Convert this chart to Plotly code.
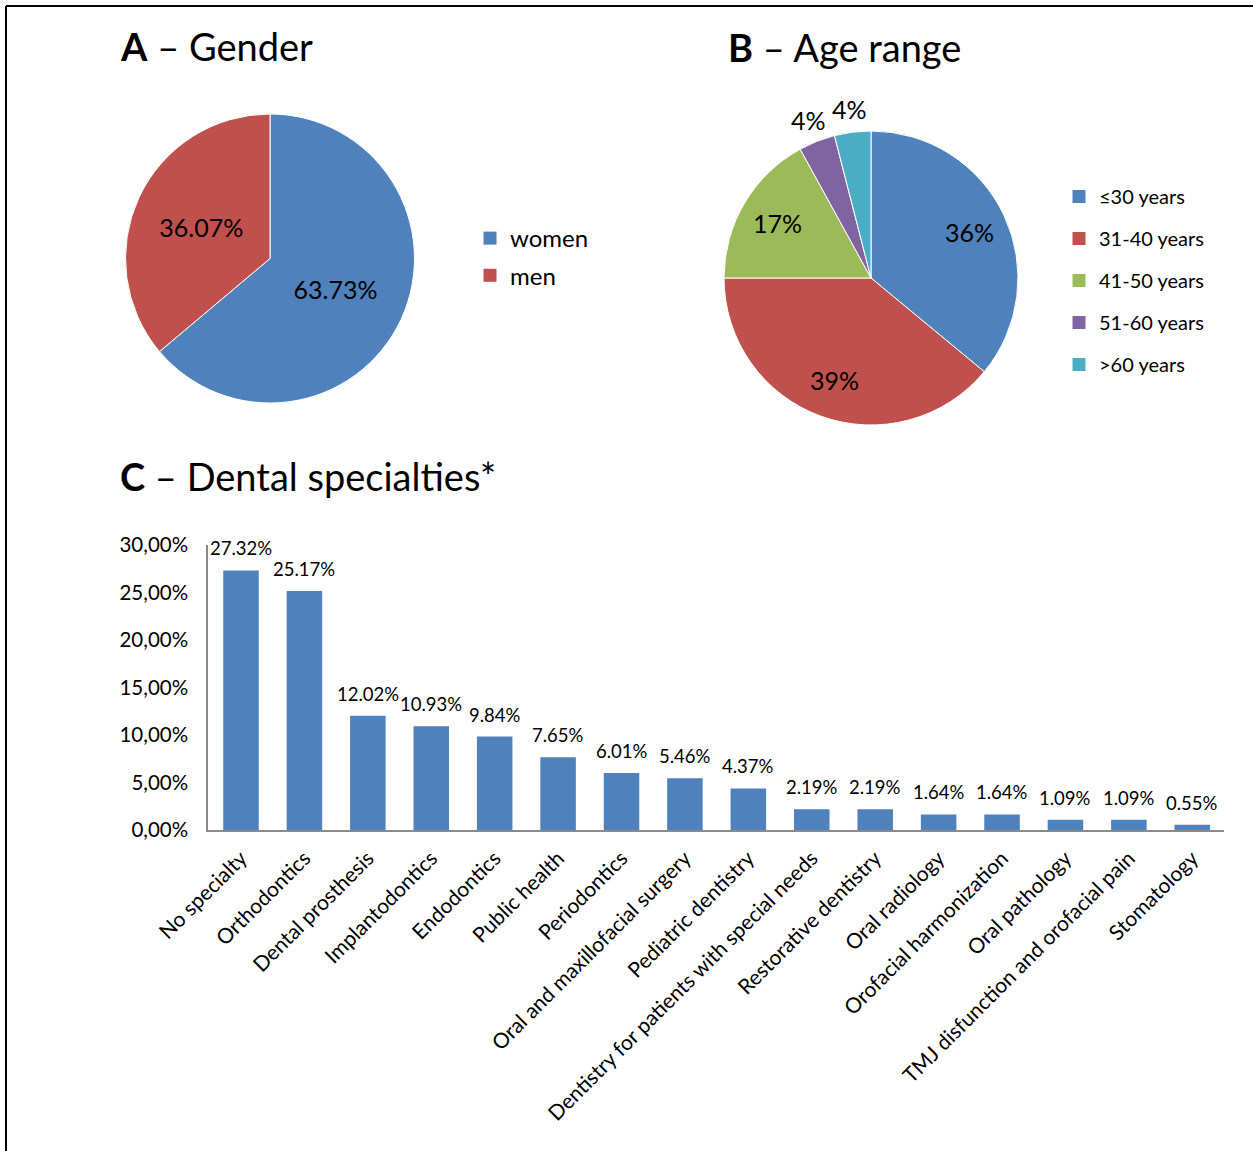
import math
import plotly.graph_objects as go

# ---------------- data ----------------
gender_labels = ["women", "men"]
gender_values = [63.73, 36.07]
gender_text = ["63.73%", "36.07%"]

age_labels = ["≤30 years", "31-40 years", "41-50 years", "51-60 years", ">60 years"]
age_values = [36, 39, 17, 4, 4]
age_text = ["36%", "39%", "17%", "4%", "4%"]

spec_labels = ["No specialty", "Orthodontics", "Dental prosthesis", "Implantodontics",
               "Endodontics", "Public health", "Periodontics",
               "Oral and maxillofacial surgery", "Pediatric dentistry",
               "Dentistry for patients with special needs", "Restorative dentistry",
               "Oral radiology", "Orofacial harmonization", "Oral pathology",
               "TMJ disfunction and orofacial pain", "Stomatology"]
spec_values = [27.32, 25.17, 12.02, 10.93, 9.84, 7.65, 6.01, 5.46, 4.37,
               2.19, 2.19, 1.64, 1.64, 1.09, 1.09, 0.55]
y_tickvals = [0, 5, 10, 15, 20, 25, 30]
y_ticktext = ["0,00%", "5,00%", "10,00%", "15,00%", "20,00%", "25,00%", "30,00%"]

# ---------------- style ----------------
W, H = 1253, 1151
FONT = "Lato"
gender_colors = ["#4F81BD", "#C0504D"]
age_colors = ["#4F81BD", "#C0504D", "#9BBB59", "#8064A2", "#4BACC6"]
bar_color = "#4F81BD"

# pixel boxes of the panels
PIE_A_BOX = (125, 415, 114, 403)   # x0, x1, y0, y1 (pixels, y downwards)
PIE_B_BOX = (724, 1018, 131, 425)
BAR_BOX = (208, 1224, 545, 830)
INSIDE_R = 0.74     # label radius (fraction of pie radius) for big slices
OUTSIDE_R = 1.157   # label radius for small slices
SMALL_SLICE = 10


def px(x):
    return x / W


def py(y):
    return 1 - y / H


fig = go.Figure()

# Pie A
fig.add_trace(go.Pie(
    labels=gender_labels, values=gender_values, text=gender_text,
    textinfo="text", textposition="inside", insidetextorientation="horizontal",
    sort=False, direction="clockwise", rotation=0,
    marker=dict(colors=gender_colors, line=dict(color="white", width=1)),
    textfont=dict(family=FONT, size=25, color="black"),
    domain=dict(x=[px(PIE_A_BOX[0]), px(PIE_A_BOX[1])], y=[py(PIE_A_BOX[3]), py(PIE_A_BOX[2])]),
    showlegend=False, hoverinfo="label+percent",
))

# Pie B (labels added as annotations placed along each slice's bisector)
fig.add_trace(go.Pie(
    labels=age_labels, values=age_values,
    textinfo="none",
    sort=False, direction="clockwise", rotation=0,
    marker=dict(colors=age_colors, line=dict(color="white", width=1)),
    domain=dict(x=[px(PIE_B_BOX[0]), px(PIE_B_BOX[1])], y=[py(PIE_B_BOX[3]), py(PIE_B_BOX[2])]),
    showlegend=False, hoverinfo="label+percent",
))

# Bar C
fig.add_trace(go.Bar(
    x=spec_labels, y=spec_values, marker=dict(color=bar_color),
    showlegend=False, xaxis="x", yaxis="y",
    hovertemplate="%{x}: %{y:.2f}%<extra></extra>",
))

# Legend entries (legend keys for the pies)
for i, (lab, col) in enumerate(zip(gender_labels, gender_colors)):
    fig.add_trace(go.Scatter(
        x=[None], y=[None], mode="markers", name=lab,
        marker=dict(symbol="square", size=13, color=col),
        legend="legend", legendgroup="g%d" % i, xaxis="x2", yaxis="y2",
    ))
for i, (lab, col) in enumerate(zip(age_labels, age_colors)):
    fig.add_trace(go.Scatter(
        x=[None], y=[None], mode="markers", name=lab,
        marker=dict(symbol="square", size=13, color=col),
        legend="legend2", legendgroup="a%d" % i, xaxis="x2", yaxis="y2",
    ))

annotations = [
    dict(text="<b>A</b> – Gender", x=px(118), y=py(46), xanchor="left", yanchor="middle",
         font=dict(family=FONT, size=38, color="black")),
    dict(text="<b>B</b> – Age range", x=px(726), y=py(47), xanchor="left", yanchor="middle",
         font=dict(family=FONT, size=38, color="black")),
    dict(text="<b>C</b> – Dental specialties*", x=px(118), y=py(476), xanchor="left", yanchor="middle",
         font=dict(family=FONT, size=38, color="black")),
]
for a in annotations:
    a.update(xref="paper", yref="paper", showarrow=False)

# Pie B labels from the data (angle of each slice's bisector)
cx = (PIE_B_BOX[0] + PIE_B_BOX[1]) / 2
cy = (PIE_B_BOX[2] + PIE_B_BOX[3]) / 2
R = min(PIE_B_BOX[1] - PIE_B_BOX[0], PIE_B_BOX[3] - PIE_B_BOX[2]) / 2
total = sum(age_values)
cum = 0
for v, t in zip(age_values, age_text):
    mid = (cum + v / 2) / total * 2 * math.pi
    cum += v
    r = R * (OUTSIDE_R if v < SMALL_SLICE else INSIDE_R)
    annotations.append(dict(
        text=t, x=px(cx + r * math.sin(mid)), y=py(cy - r * math.cos(mid)),
        xref="paper", yref="paper", xanchor="center", yanchor="middle", showarrow=False,
        font=dict(family=FONT, size=25, color="black")))

# Bar value labels
for lab, v in zip(spec_labels, spec_values):
    annotations.append(dict(
        text="%.2f%%" % v, x=lab, y=v, xref="x", yref="y", yshift=22,
        xanchor="center", yanchor="middle", showarrow=False,
        font=dict(family=FONT, size=18.5, color="black")))

shapes = [
    dict(type="line", xref="paper", yref="paper", x0=px(6), x1=1, y0=py(6), y1=py(6),
         line=dict(color="black", width=2)),
    dict(type="line", xref="paper", yref="paper", x0=px(6), x1=px(6), y0=0, y1=py(6),
         line=dict(color="black", width=2)),
]

fig.update_layout(
    width=W, height=H, template="none",
    margin=dict(l=0, r=0, t=0, b=0),
    paper_bgcolor="white", plot_bgcolor="white",
    font=dict(family=FONT, color="black"),
    bargap=0.44,
    annotations=annotations, shapes=shapes,
    xaxis=dict(domain=[px(BAR_BOX[0]), px(BAR_BOX[1])], type="category", tickangle=-45,
               tickfont=dict(family=FONT, size=21, color="black"),
               showline=True, linecolor="#8A8A8A", linewidth=1.5,
               showgrid=False, ticks="", ticklabelstandoff=6,
               automargin=False, zeroline=False),
    yaxis=dict(domain=[py(BAR_BOX[3]), py(BAR_BOX[2])], range=[0, 30], tickvals=y_tickvals,
               ticktext=y_ticktext, tickfont=dict(family=FONT, size=20.5, color="black"),
               showline=True, linecolor="#8A8A8A", linewidth=1.5,
               showgrid=False, ticks="", ticklabelstandoff=14,
               automargin=False, zeroline=False),
    xaxis2=dict(domain=[0, 0.01], visible=False, anchor="y2"),
    yaxis2=dict(domain=[0.99, 1], visible=False, anchor="x2"),
    legend=dict(x=px(470), y=py(216), xanchor="left", yanchor="top",
                font=dict(family=FONT, size=24, color="black"),
                tracegroupgap=3, bgcolor="rgba(0,0,0,0)", itemclick=False),
    legend2=dict(x=px(1059), y=py(177), xanchor="left", yanchor="top",
                 font=dict(family=FONT, size=20, color="black"),
                 tracegroupgap=13, bgcolor="rgba(0,0,0,0)", itemclick=False),
)

fig.write_html("out.html")
